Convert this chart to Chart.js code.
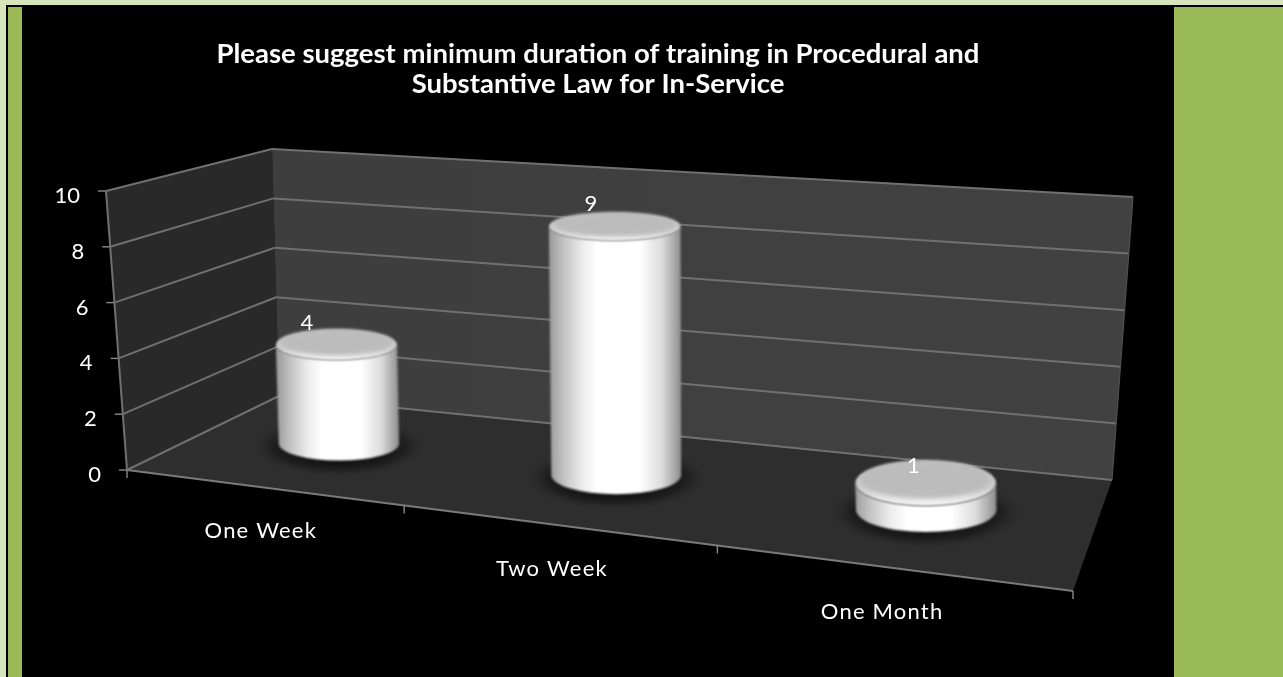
<!DOCTYPE html>
<html><head><meta charset="utf-8">
<style>
html,body{margin:0;padding:0;width:1283px;height:677px;overflow:hidden;background:#000}
.b{position:absolute}
#wrap{position:absolute;left:22px;top:7px;width:1152px;height:670px;background:#000}
</style>
<script src="https://cdn.jsdelivr.net/npm/chart.js@4"></script>
</head><body>
<div class="b" style="left:0;top:0;width:1283px;height:5px;background:#D8E4BC"></div>
<div class="b" style="left:0;top:0;width:6px;height:677px;background:#D8E4BC"></div>
<div class="b" style="left:8px;top:7px;width:14px;height:670px;background:#9BBB59"></div>
<div class="b" style="left:1174px;top:7px;width:109px;height:670px;background:#9BBB59"></div>
<div id="wrap"><canvas id="c" width="1152" height="670"></canvas></div>
<script>
const titleLines = ["Please suggest minimum duration of training in Procedural and", "Substantive Law for In-Service"];
const categories = ["One Week", "Two Week", "One Month"];
const durationCounts = [4, 9, 1];
const yMin = 0, yMax = 10, yStep = 2;

const OX = 22, OY = 7;
function quad(fl, fr, bl, br) {
  const P = p => [p[0]-OX, p[1]-OY];
  [fl,fr,bl,br] = [P(fl),P(fr),P(bl),P(br)];
  const dx1=fr[0]-br[0], dx2=bl[0]-br[0], sx=fl[0]-fr[0]+br[0]-bl[0];
  const dy1=fr[1]-br[1], dy2=bl[1]-br[1], sy=fl[1]-fr[1]+br[1]-bl[1];
  const den=dx1*dy2-dx2*dy1;
  const g=(sx*dy2-dx2*sy)/den, h=(dx1*sy-sx*dy1)/den;
  const a=fr[0]-fl[0]+g*fr[0], b=bl[0]-fl[0]+h*bl[0], c=fl[0];
  const d=fr[1]-fl[1]+g*fr[1], e=bl[1]-fl[1]+h*bl[1], f=fl[1];
  return (u,v)=>{const w=g*u+h*v+1;return {x:(a*u+b*v+c)/w,y:(d*u+e*v+f)/w,w};};
}
const floorPlane = quad([127,470],[1073,591],[279,396],[1112,480]);
const topPlane   = quad([106,191],[1110,282],[272,149],[1133,197]);
const warp = u => u + 0.065*u*(1-u);
function pt(u,v,t){
  const uw=warp(u), a=floorPlane(uw,v), b=topPlane(uw,v);
  return {x:a.x+(b.x-a.x)*t, y:a.y+(b.y-a.y)*t, w:a.w};
}
function poly(ctx,pts,fill){
  ctx.beginPath();pts.forEach((p,i)=>i?ctx.lineTo(p.x,p.y):ctx.moveTo(p.x,p.y));ctx.closePath();
  ctx.fillStyle=fill;ctx.fill();
}
function seg(ctx,a,b,col,lw){
  ctx.beginPath();ctx.moveTo(a.x,a.y);ctx.lineTo(b.x,b.y);ctx.strokeStyle=col;ctx.lineWidth=lw;ctx.stroke();
}
function text(ctx,s,x,y,font,align,spacing){
  ctx.save();ctx.font=font;ctx.fillStyle='#fff';ctx.textAlign=align;ctx.textBaseline='middle';
  ctx.letterSpacing=spacing||'0px';ctx.fillText(s,x,y);ctx.restore();
}
const BAR_DV=0.22, BAR_V=0.52;
const GRID='#707070';
const riseFactor = u => 0.925+0.1667*(u-0.18)-0.61*(u-0.18)*(u-0.51);
const labelShift = u => -29.7+17.1*(u-1/6)+27*(u-1/6)*(u-0.5);

const scene3d = {
  id:'scene3d',
  beforeDatasetsDraw(chart){
    const ctx=chart.ctx, ys=chart.scales.y, xs=chart.scales.x;
    const tOf=val=>(val-ys.min)/(ys.max-ys.min);
    ctx.save();
    poly(ctx,[pt(0,0,0),pt(1,0,0),pt(1,1,0),pt(0,1,0)],'#2e2e2e');
    poly(ctx,[pt(0,0,0),pt(0,1,0),pt(0,1,1),pt(0,0,1)],'#292929');
    const g=ctx.createLinearGradient(pt(0,1,1).x,0,pt(1,1,1).x,0);
    g.addColorStop(0,'#3e3e3e');g.addColorStop(1,'#414141');
    poly(ctx,[pt(0,1,0),pt(1,1,0),pt(1,1,1),pt(0,1,1)],g);
    ctx.filter='blur(0.6px)';
    ys.ticks.forEach(tk=>{
      const t=tOf(tk.value);
      seg(ctx,pt(0,0,t),pt(0,1,t),GRID,2);
      seg(ctx,pt(0,1,t),pt(1,1,t),GRID,2);
      const a=pt(0,0,t);
      seg(ctx,{x:a.x-8,y:a.y},a,'#8a8a8a',1.4);
    });
    seg(ctx,pt(0,0,0),pt(0,0,1),GRID,2);
    seg(ctx,pt(0,0,0),pt(1,0,0),'#7a7a7a',2);
    seg(ctx,pt(1,1,0),pt(1,1,1),'#505050',1.2);
    for(let i=0;i<=categories.length;i++){
      const a=pt(i/categories.length,0,0);
      seg(ctx,a,{x:a.x,y:a.y+8},'#8a8a8a',1.4);
    }
    ctx.filter='none';
    ys.ticks.forEach(tk=>{
      const a=pt(0,0,tOf(tk.value));
      text(ctx,String(tk.value),a.x-26,a.y+5,'22px Lato','right');
    });
    categories.forEach((c,i)=>{
      const u=(xs.getPixelForValue(i)-chart.chartArea.left)/chart.chartArea.width;
      const a=pt(u,0,0);
      text(ctx,c,a.x+1-10*u,a.y+44,'22px Lato','center','1.2px');
    });
    ctx.restore();
  },
  afterDatasetsDraw(chart){
    const ctx=chart.ctx, area=chart.chartArea;
    const meta=chart.getDatasetMeta(0);
    meta.data.forEach((bar,i)=>{
      const u=(bar.x-area.left)/area.width;
      const tTop=(area.bottom-bar.y)/area.height*riseFactor(u), tBase=(area.bottom-bar.base)/area.height;
      const base=pt(u,BAR_V,tBase), raw=pt(u,BAR_V,tTop);
      const top={x:base.x-3*(1-u), y:raw.y};
      const rx=bar.width/2/base.w, rxT=rx*(1+0.015*tTop);
      const ryB=Math.abs(pt(u,BAR_V-BAR_DV,tBase).y-pt(u,BAR_V+BAR_DV,tBase).y)/2;
      const ryT=Math.abs(pt(u,BAR_V-BAR_DV,tTop).y-pt(u,BAR_V+BAR_DV,tTop).y)/2+1;
      ctx.save();
      ctx.save();
      ctx.translate(base.x,base.y+3);ctx.scale(1,(ryB+13)/(rx+26));
      const sh=ctx.createRadialGradient(0,0,rx*0.75,0,0,rx+26);
      sh.addColorStop(0,'rgba(14,14,14,0.9)');sh.addColorStop(0.5,'rgba(18,18,18,0.55)');sh.addColorStop(1,'rgba(40,40,40,0)');
      ctx.fillStyle=sh;ctx.beginPath();ctx.arc(0,0,rx+26,0,Math.PI*2);ctx.fill();
      ctx.restore();
      ctx.filter='blur(0.8px)';
      const g=ctx.createLinearGradient(base.x-rx,0,base.x+rx,0);
      g.addColorStop(0,'#a0a0a0');g.addColorStop(0.1,'#c4c4c4');g.addColorStop(0.24,'#ececec');
      g.addColorStop(0.36,'#ffffff');g.addColorStop(0.68,'#ffffff');g.addColorStop(0.85,'#dcdcdc');
      g.addColorStop(0.95,'#a8a8a8');g.addColorStop(1,'#8c8c8c');
      ctx.beginPath();
      ctx.moveTo(top.x-rxT,top.y);
      ctx.lineTo(base.x-rx,base.y);
      ctx.ellipse(base.x,base.y,rx,ryB,0,Math.PI,0,true);
      ctx.lineTo(top.x+rxT,top.y);
      ctx.ellipse(top.x,top.y,rxT,ryT,0,0,Math.PI,false);
      ctx.closePath();ctx.fillStyle=g;ctx.fill();
      const lid=ctx.createLinearGradient(0,top.y-ryT,0,top.y+ryT);
      lid.addColorStop(0,'#bdbdbd');lid.addColorStop(0.6,'#cfcfcf');lid.addColorStop(1,'#f8f8f8');
      ctx.beginPath();ctx.ellipse(top.x,top.y,rxT,ryT,0,0,Math.PI*2);ctx.fillStyle=lid;ctx.fill();
      ctx.filter='blur(2px)';
      ctx.beginPath();ctx.ellipse(top.x,top.y-ryT*0.14,rxT*0.93,ryT*0.8,0,0,Math.PI*2);ctx.fillStyle='#bcbcbc';ctx.fill();
      ctx.restore();
      const val=durationCounts[i];
      text(ctx,String(val),top.x+labelShift(u),top.y-17-6*(1-1/val),'22px Lato','center');
    });
  }
};

new Chart(document.getElementById('c'),{
  type:'bar',
  data:{labels:categories,datasets:[{data:durationCounts,backgroundColor:'rgba(0,0,0,0)',borderWidth:0,
    barPercentage:0.325,categoryPercentage:1}]},
  options:{
    responsive:false,animation:false,
    layout:{padding:0},
    plugins:{
      legend:{display:false},tooltip:{enabled:false},
      title:{display:true,text:titleLines,color:'#fff',align:'center',
        font:{family:'Lato',weight:'bold',size:27.5,lineHeight:1.09},padding:{top:32,bottom:20}}
    },
    scales:{
      x:{display:false,offset:true},
      y:{display:false,min:yMin,max:yMax,ticks:{stepSize:yStep}}
    }
  },
  plugins:[scene3d]
});
</script>
</body></html>
